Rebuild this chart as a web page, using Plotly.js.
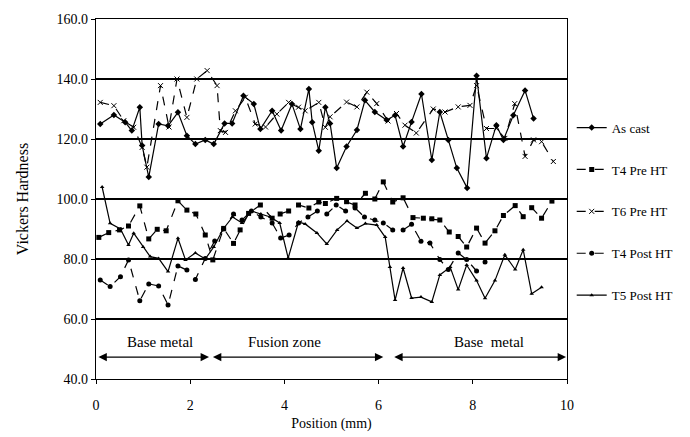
<!DOCTYPE html>
<html>
<head>
<meta charset="utf-8">
<script src="https://cdn.plot.ly/plotly-3.0.1.min.js"></script>
<style>html,body{margin:0;padding:0;background:#fff;}#chart{width:690px;height:437px;}</style>
</head>
<body>
<div id="chart"></div>
<script>
// ---- data ----
const seriesNames = ["As cast", "T4 Pre HT", "T6 Pre HT", "T4 Post HT", "T5 Post HT"];

const asCastX = [0.09,0.38,0.62,0.76,0.93,0.98,1.12,1.33,1.53,1.74,1.93,2.11,2.32,2.5,2.73,2.89,3.13,3.35,3.49,3.74,3.93,4.16,4.34,4.52,4.59,4.73,4.87,4.97,5.11,5.32,5.54,5.71,5.92,6.17,6.35,6.52,6.7,6.91,7.13,7.3,7.48,7.66,7.88,8.08,8.29,8.5,8.65,8.86,9.11,9.29];
const asCastY = [125,128,125.6,122.8,130.6,117.8,107.3,125,124.4,128.9,121.1,118.3,119.7,118.3,125.2,125.2,134.4,131.7,123.3,129.4,122.8,131.7,123.3,136.7,125.6,116.1,130.6,125.2,110.3,117.5,123,132.9,129,126.3,127.9,117.5,125.7,135,113,129,119.7,110.3,103.7,141.1,113.6,124.6,119.7,127.9,136.2,126.8];

const t4PreX = [0.06,0.27,0.5,0.69,0.93,1.12,1.3,1.49,1.74,1.93,2.12,2.32,2.48,2.71,2.92,3.06,3.24,3.49,3.74,3.91,4.09,4.3,4.52,4.73,4.87,5.11,5.32,5.5,5.72,5.92,6.1,6.3,6.52,6.73,6.95,7.13,7.3,7.5,7.69,7.87,8.08,8.26,8.47,8.65,8.9,9.07,9.25,9.46,9.68];
const t4PreY = [87.2,88.8,89.7,91,97.7,86.7,89.9,89.4,99.4,96.3,95,88,79.7,90.2,85.2,89.7,95.2,98,93.6,95,96,98,97,99,98.5,100.2,99.1,98,101.9,100,105.7,99,100.4,93.8,93.6,93.4,93,89,87.5,84,90.3,85.3,89.4,94.5,97.8,94.1,97.1,93.6,99.3];

const t6PreX = [0.09,0.38,0.59,0.8,0.98,1.08,1.37,1.55,1.72,1.93,2.14,2.36,2.57,2.64,2.75,2.96,3.17,3.38,3.6,3.84,4.09,4.3,4.44,4.73,4.87,4.97,5.32,5.54,5.75,5.96,6.2,6.38,6.56,6.8,7.16,7.41,7.69,7.94,8.08,8.29,8.5,8.68,8.89,9.11,9.29,9.46,9.71];
const t6PreY = [132.2,131.1,126.1,123.9,117.2,110.6,137.8,124,140,127.2,140,142.8,137.8,122.8,122.2,129.4,133.9,125,124,128.3,132.2,130.6,129.4,132.2,123.9,127.4,132.3,130.7,135.6,131.8,126,128.5,124.6,122,130,129,130.7,131.2,137.8,123.5,123.5,120.2,131.8,114.2,119.7,119.1,112.5];

const t4PostX = [0.09,0.3,0.52,0.69,0.93,1.12,1.33,1.53,1.74,1.93,2.11,2.32,2.52,2.71,2.92,3.1,3.3,3.5,3.74,3.92,4.1,4.3,4.5,4.7,4.9,5.1,5.3,5.5,5.7,5.92,6.1,6.3,6.52,6.7,6.9,7.09,7.3,7.48,7.69,7.87,8.08,8.26];
const t4PostY = [73,70.8,74.1,79.7,66.1,71.7,71,64.7,77.7,76.3,73.2,80.2,86,90,95,93,96,94,92,87,88,92,94,96,95,98,96,97,94,93,92,89.7,89.7,91.6,85.9,85.3,79.8,76.5,82,79.8,76,79];

const t5PostX = [0.13,0.3,0.52,0.69,0.8,1.0,1.15,1.33,1.53,1.74,1.9,2.11,2.32,2.5,2.7,2.9,3.1,3.3,3.5,3.7,3.9,4.08,4.3,4.44,4.69,4.9,5.12,5.33,5.54,5.72,5.96,6.14,6.24,6.35,6.52,6.7,6.9,7.13,7.3,7.52,7.69,7.87,8.08,8.26,8.47,8.68,8.9,9.07,9.25,9.46];
const t5PostY = [104,91.9,90,84.7,88.6,84,80.8,80.2,75.8,86.9,79.7,82,80,84,90,94,92,96,95,94,92,80.3,92.3,91.7,88.7,85,89.7,92.7,90.3,91.8,91.3,87.3,77.3,66.3,77,67,67.3,65.7,74.7,77.3,69.8,78,72.8,66.9,72.8,81.4,76.5,83.1,68.4,70.6];

const zoneLabels = ["Base metal", "Fusion zone", "Base  metal"];
const zoneStart = [0.02, 2.45, 6.3];
const zoneEnd = [2.4, 6.1, 9.98];
const zoneTextX = [1.35, 4.0, 8.35];
const zoneArrowY = 47.3;
const zoneTextY = 52.2;

const xTicks = [0, 2, 4, 6, 8, 10];
const yTicks = [40, 60, 80, 100, 120, 140, 160];

// ---- traces ----
const serif = "Liberation Serif, Times New Roman, serif";
function tr(name, x, y, dash, symbol, size, group) {
  return {
    type: "scatter", mode: "lines+markers", name: name, x: x, y: y,
    line: {color: "#000", width: 1.2, dash: dash},
    marker: {color: "#000", symbol: symbol, size: size},
    legendgroup: group
  };
}
const data = [
  tr(seriesNames[0], asCastX, asCastY, "solid", "diamond", 5, "a"),
  tr(seriesNames[1], t4PreX, t4PreY, "dash", "square", 5, "b"),
  tr(seriesNames[2], t6PreX, t6PreY, "dash", "x-thin-open", 5, "c"),
  tr(seriesNames[3], t4PostX, t4PostY, "dash", "circle", 5, "d"),
  tr(seriesNames[4], t5PostX, t5PostY, "solid", "triangle-up", 4, "e")
];

const annotations = [];
for (let i = 0; i < zoneLabels.length; i++) {
  annotations.push({
    x: zoneEnd[i], y: zoneArrowY, ax: zoneStart[i], ay: zoneArrowY,
    xref: "x", yref: "y", axref: "x", ayref: "y",
    text: "", showarrow: true, arrowhead: 2, arrowside: "end+start",
    arrowsize: 1.2, arrowwidth: 1.4, arrowcolor: "#000"
  });
  annotations.push({
    x: zoneTextX[i], y: zoneTextY, xref: "x", yref: "y", text: zoneLabels[i],
    showarrow: false, font: {family: serif, size: 15, color: "#000"}
  });
}

const layout = {
  width: 690, height: 437,
  margin: {l: 96, r: 123, t: 19, b: 58},
  paper_bgcolor: "#fff", plot_bgcolor: "#fff",
  font: {family: serif, color: "#000", size: 13},
  showlegend: true,
  legend: {x: 1.01, xanchor: "left", y: 0.465, yanchor: "middle",
           font: {family: serif, size: 13, color: "#000"},
           tracegroupgap: 22, itemwidth: 30, bgcolor: "rgba(0,0,0,0)"},
  xaxis: {range: [0, 10], tickvals: xTicks, showgrid: false, zeroline: false,
          showline: true, linecolor: "#000", linewidth: 1.2, mirror: true,
          ticks: "outside", ticklen: 4, tickcolor: "#000",
          ticklabelstandoff: 9,
          tickfont: {family: serif, size: 14},
          title: {text: "Position (mm)", font: {family: serif, size: 14}, standoff: 6}},
  yaxis: {range: [40, 160], tickvals: yTicks, tickformat: ".1f",
          showgrid: true, gridcolor: "#000", gridwidth: 1.5, zeroline: false,
          showline: true, linecolor: "#000", linewidth: 1.2, mirror: true,
          ticks: "outside", ticklen: 4, tickcolor: "#000",
          tickfont: {family: serif, size: 14},
          title: {text: "Vickers Hardness", font: {family: serif, size: 16}, standoff: 24}},
  annotations: annotations
};

Plotly.newPlot("chart", data, layout, {staticPlot: true, displayModeBar: false});
</script>
</body>
</html>
